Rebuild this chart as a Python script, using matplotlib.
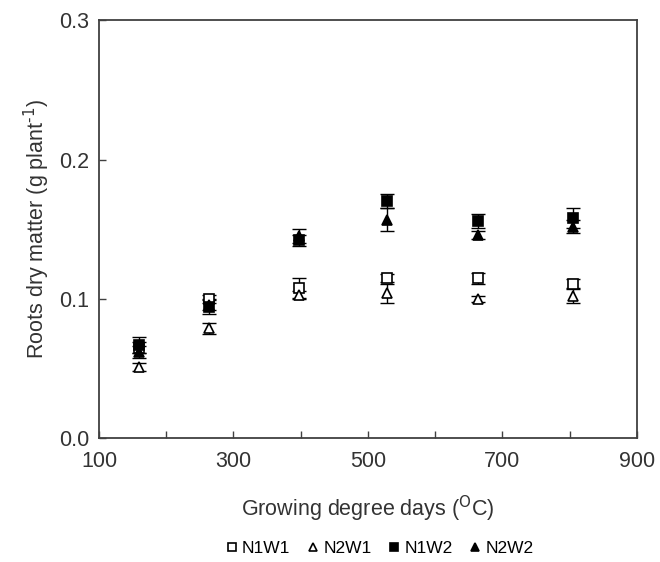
import matplotlib as mpl
mpl.use('Agg')
import matplotlib.pyplot as plt
from matplotlib.ticker import MultipleLocator, FixedLocator

mpl.rcParams.update({
    "font.family": ["Liberation Sans", "DejaVu Sans"],
    "font.size": 13,
    "xtick.direction": "in",
    "ytick.direction": "in",
})

gdd = [160, 263, 398, 528, 664, 805]

series = ["N1W1", "N2W1", "N1W2", "N2W2"]
n1w1 = [0.065, 0.100, 0.108, 0.115, 0.115, 0.111]
n2w1 = [0.051, 0.079, 0.103, 0.104, 0.100, 0.102]
n1w2 = [0.067, 0.094, 0.142, 0.170, 0.156, 0.158]
n2w2 = [0.062, 0.096, 0.145, 0.157, 0.146, 0.152]

n1w1_err = [0.004, 0.003, 0.007, 0.003, 0.004, 0.003]
n2w1_err = [0.003, 0.004, 0.003, 0.007, 0.002, 0.005]
n1w2_err = [0.006, 0.005, 0.004, 0.005, 0.005, 0.007]
n2w2_err = [0.004, 0.004, 0.005, 0.008, 0.003, 0.005]

x_labels = [100, 300, 500, 700, 900]
x_minor = [200, 400, 600, 800]

styles = {
    "N1W1": dict(marker="s", mfc="white"),
    "N2W1": dict(marker="^", mfc="white"),
    "N1W2": dict(marker="s", mfc="black"),
    "N2W2": dict(marker="^", mfc="black"),
}
values = {"N1W1": (n1w1, n1w1_err), "N2W1": (n2w1, n2w1_err),
          "N1W2": (n1w2, n1w2_err), "N2W2": (n2w2, n2w2_err)}

fig = plt.figure(figsize=(6.6, 5.62), dpi=100)
ax = fig.add_axes([0.15, 0.22, 0.815, 0.744])

for name in series:
    y, err = values[name]
    ax.errorbar(gdd, y, yerr=err, fmt="none", ecolor="black", elinewidth=1,
                capsize=5, capthick=1, zorder=2)
    ax.plot(gdd, y, linestyle="none", mec="black", mew=1.2, ms=6.5,
            color="black", label=name, zorder=3, **styles[name])

ax.set_xlim(100, 900)
ax.set_ylim(0, 0.3)
ax.xaxis.set_major_locator(FixedLocator(x_labels))
ax.xaxis.set_minor_locator(FixedLocator(x_minor))
ax.yaxis.set_major_locator(MultipleLocator(0.1))
ax.yaxis.set_major_formatter(mpl.ticker.FormatStrFormatter("%.1f"))
ax.tick_params(which="both", length=5, width=1, colors="#404040",
               labelcolor="#333333", labelsize=15.5)
ax.tick_params(axis="x", pad=9)
ax.tick_params(axis="y", pad=7)
for s in ax.spines.values():
    s.set_color("#404040")
    s.set_linewidth(1.3)

ax.set_xlabel("Growing degree days ($^{\\mathrm{O}}$C)", fontsize=15.5, color="#333333", labelpad=16)
ax.set_ylabel("Roots dry matter (g plant$^{\\text{-1}}$)", fontsize=15.5, color="#333333", labelpad=5)

fig.legend(loc="lower center", bbox_to_anchor=(0.572, -0.018), ncol=4, frameon=False,
           fontsize=12.5, handletextpad=0.0, columnspacing=0.7, markerscale=0.85,
           handlelength=1.2)

fig.savefig("out.png", dpi=100)
